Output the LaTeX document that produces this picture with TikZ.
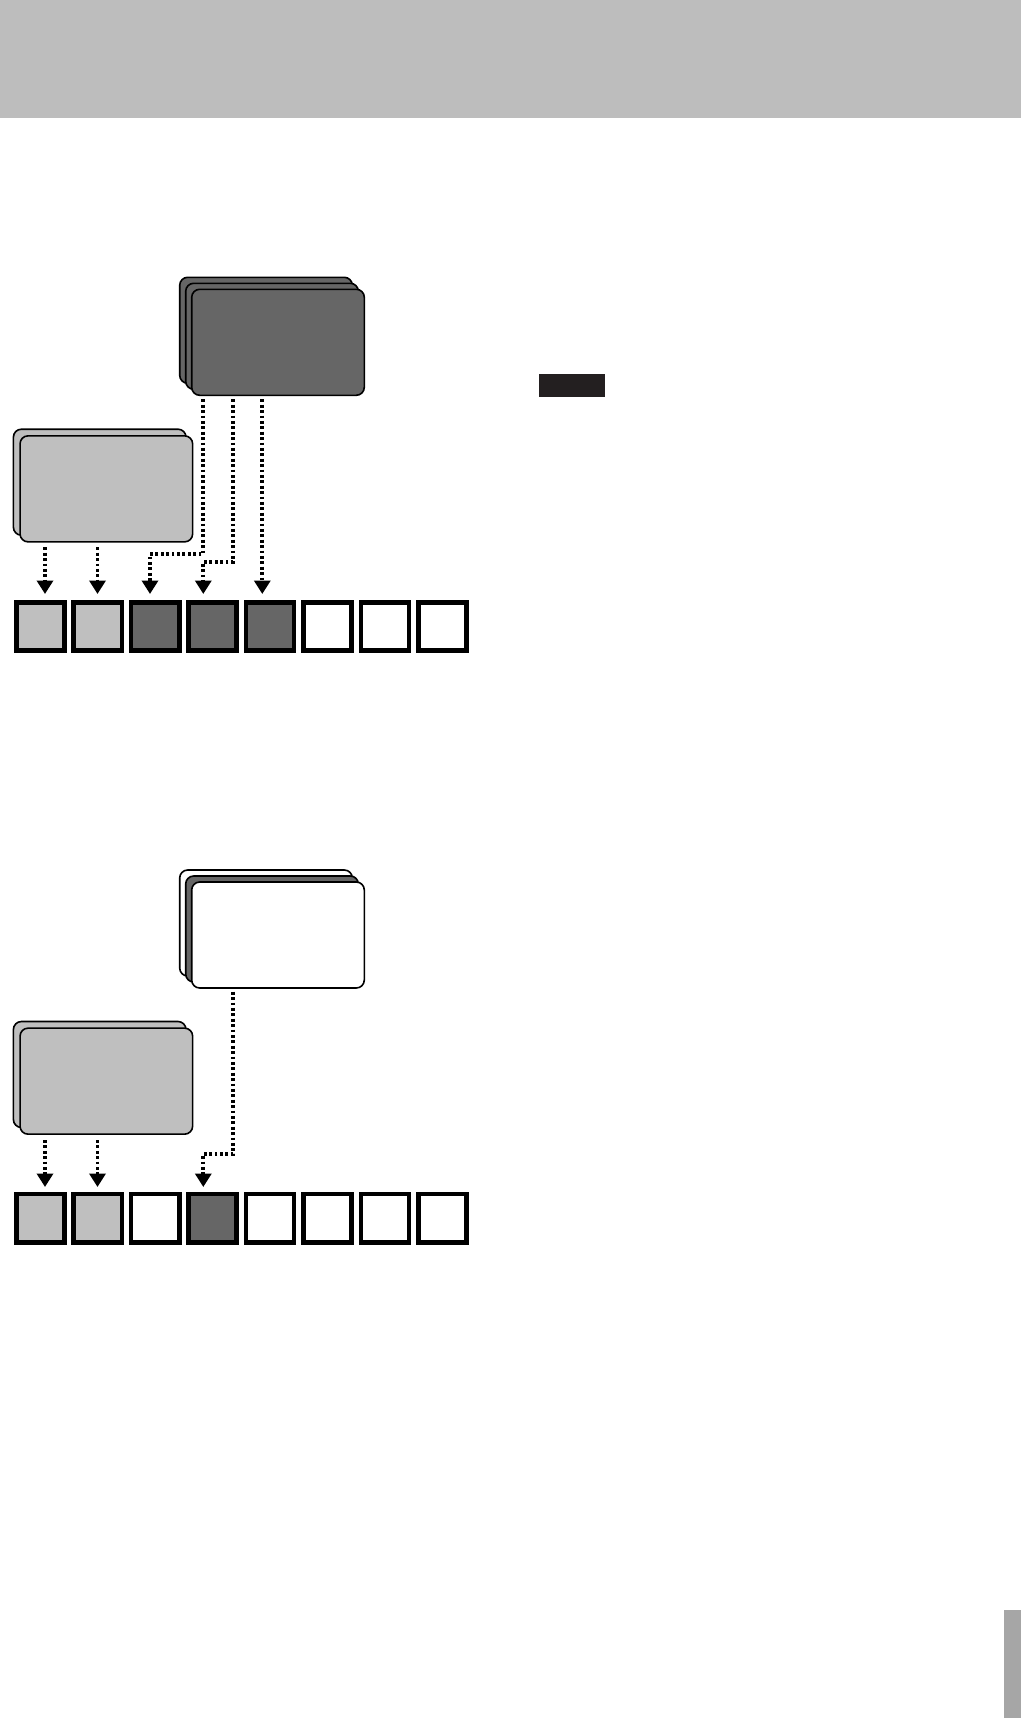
\documentclass[tikz,border=0pt]{standalone}
\usetikzlibrary{arrows.meta}
\definecolor{lightg}{HTML}{BFBFBF}
\definecolor{darkg}{HTML}{666666}
\definecolor{headg}{HTML}{BDBDBD}
\definecolor{tabg}{HTML}{A6A6A6}
\definecolor{blk}{HTML}{231F20}
\begin{document}
\begin{tikzpicture}[x=1pt,y=-1pt,
 card/.style={draw=black,line width=1.6pt,rounded corners=8pt,minimum width=172.6pt,minimum height=106pt,inner sep=0pt,outer sep=0pt},
 cell/.style={draw=black,line width=4.5pt,minimum size=48.2pt,inner sep=0pt,outer sep=0pt},
 conn/.style={line width=3.8pt,dash pattern=on 2.8pt off 2.6pt,-{Triangle[length=13.5pt,width=16pt]}}]
\useasboundingbox (0,0) rectangle (1021,1718);
% page decorations
\fill[headg] (0,0) rectangle (1021,118.3);
\fill[blk] (539,374) rectangle (605,396.7);
\fill[tabg] (1004,1610) rectangle (1021,1718);

% ---------- diagram 1 ----------
\node[card,fill=darkg] (d1b) at (266,330.3) {};
\node[card,fill=darkg] (d1m) at (272,336.3) {};
\node[card,fill=darkg] (d1f) at (278,342.3) {};
\node[card,fill=lightg] (l1b) at (99.7,482.2) {};
\node[card,fill=lightg] (l1f) at (106.35,488.85) {};
\foreach \i/\c in {1/lightg,2/lightg,3/darkg,4/darkg,5/darkg,6/white,7/white,8/white}
  \node[cell,fill=\c] (a\i) at ({40.35+(\i-1)*57.43},626.35) {};

\coordinate (la1) at (45,547.3);
\coordinate (la2) at (97.5,547.3);
\coordinate (da1) at (203.3,399.3);
\coordinate (da2) at (233.3,399.3);
\coordinate (da3) at (262.3,399.3);
\coordinate (ta1) at (45,594);
\coordinate (ta2) at (97.5,594);
\coordinate (ta3) at (150,594);
\coordinate (ta4) at (203.3,594);
\coordinate (ta5) at (262.3,594);
\draw[conn] (la1) -- (ta1);
\draw[conn] (la2) -- (ta2);
\draw[conn] (da1) -- (203.3,554) -- (150,554) -- (ta3);
\draw[conn] (da2) -- (233.3,561.7) -- (203.3,561.7) -- (ta4);
\draw[conn] (da3) -- (ta5);

% ---------- diagram 2 ----------
\node[card,fill=white] (d2b) at (266,923) {};
\node[card,fill=darkg] (d2m) at (272,929) {};
\node[card,fill=white] (d2f) at (278,935) {};
\node[card,fill=lightg] (l2b) at (99.7,1074.5) {};
\node[card,fill=lightg] (l2f) at (106.35,1081.15) {};
\foreach \i/\c in {1/lightg,2/lightg,3/white,4/darkg,5/white,6/white,7/white,8/white}
  \node[cell,fill=\c] (b\i) at ({40.35+(\i-1)*57.43},1218.3) {};

\coordinate (lb1) at (45,1140);
\coordinate (lb2) at (97.5,1140);
\coordinate (db1) at (233.3,991.7);
\coordinate (tb1) at (45,1187);
\coordinate (tb2) at (97.5,1187);
\coordinate (tb4) at (203.3,1187);
\draw[conn] (lb1) -- (tb1);
\draw[conn] (lb2) -- (tb2);
\draw[conn] (db1) -- (233.3,1154) -- (203.3,1154) -- (tb4);
\end{tikzpicture}
\end{document}
